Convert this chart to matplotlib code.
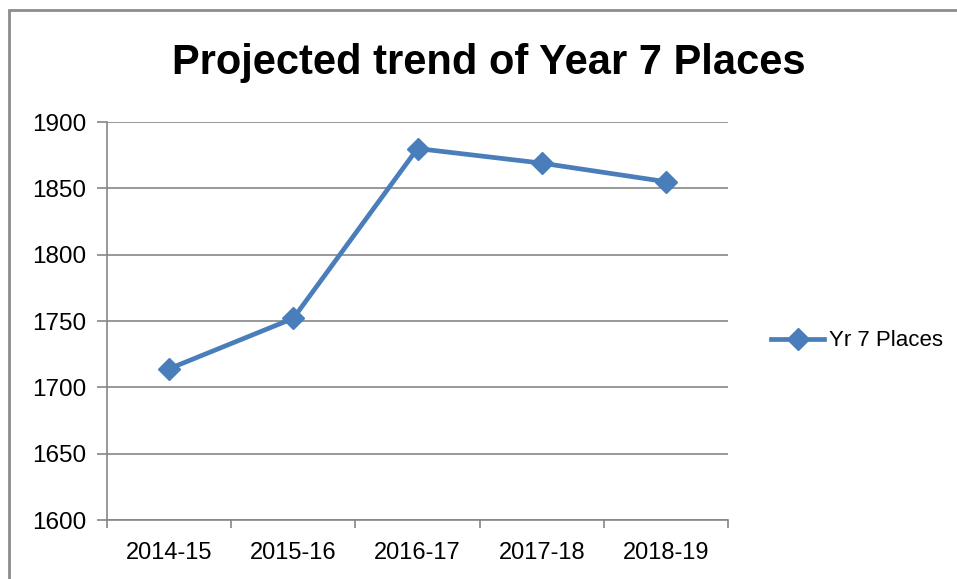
import matplotlib.pyplot as plt
from matplotlib.patches import Rectangle

years = ['2014-15', '2015-16', '2016-17', '2017-18', '2018-19']
places = [1714, 1752, 1880, 1869, 1855]
y_ticks = [1600, 1650, 1700, 1750, 1800, 1850, 1900]

blue = '#4A7EBB'
grey = '#868686'
font = 'Liberation Sans'

fig = plt.figure(figsize=(9.57, 5.79), dpi=100)

# outer chart border (runs off right/bottom like the screenshot)
fig.patches.append(Rectangle((9 / 957, -0.1), 1.1, 1 - 10 / 579 + 0.1,
                             transform=fig.transFigure, fill=False,
                             edgecolor='#8C8C8C', linewidth=2))

ax = fig.add_axes([107 / 957, 59 / 579, 621 / 957, 398 / 579])

x = list(range(len(years)))
ax.plot(x, places, color=blue, linewidth=3.4, marker='D', markersize=11,
        label='Yr 7 Places')

ax.set_xlim(-0.5, len(years) - 0.5)
ax.set_ylim(1600, 1900)
ax.set_yticks(y_ticks)
ax.set_yticklabels([str(v) for v in y_ticks], fontsize=17.5, family=font)
ax.set_xticks(x)
ax.set_xticklabels(years, fontsize=17, family=font)
ax.set_xticks([i - 0.5 for i in range(len(years) + 1)], minor=True)

ax.yaxis.grid(True, color=grey, linewidth=1.2)
ax.set_axisbelow(True)
ax.tick_params(axis='y', length=7, width=1.2, color=grey, pad=8)
ax.tick_params(axis='x', which='major', length=0, pad=16)
ax.tick_params(axis='x', which='minor', length=6, width=1.2, color=grey)

for side in ['top', 'right']:
    ax.spines[side].set_visible(False)
for side in ['left', 'bottom']:
    ax.spines[side].set_color(grey)
    ax.spines[side].set_linewidth(1.2)

fig.text(489 / 957, 1 - 63 / 579, 'Projected trend of Year 7 Places',
         ha='center', va='center', fontsize=30, fontweight='bold', family=font)

ax.legend(loc='center left', bbox_to_anchor=(1.055, 0.45), frameon=False,
          prop={'family': font, 'size': 16}, handlelength=2.4,
          handletextpad=0.2, borderaxespad=0)

fig.savefig('out.png', dpi=100)
